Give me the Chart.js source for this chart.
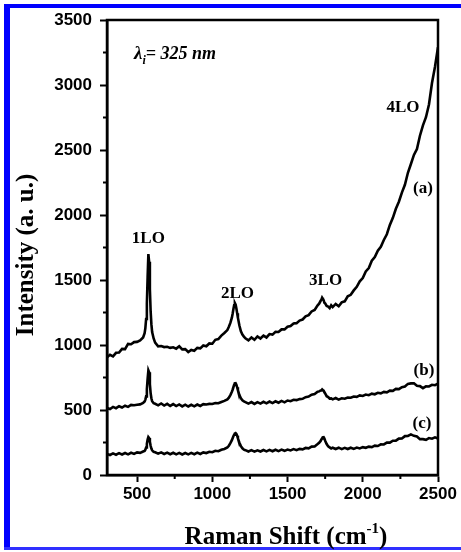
<!DOCTYPE html>
<html>
<head>
<meta charset="utf-8">
<script src="https://cdn.jsdelivr.net/npm/chart.js@4.4.0/dist/chart.umd.min.js"></script>
<style>
  html, body { margin: 0; padding: 0; background: #fff; }
  canvas { display: block; }
</style>
</head>
<body>
<canvas id="raman" width="461" height="552"></canvas>
<script>
// Raman shift (cm-1), shared by the three spectra
const ramanShift = [
  300, 320, 340, 360, 380, 400, 420, 440, 460, 480, 500, 520, 540,
  550, 555, 560, 565, 570, 575, 580, 585, 590, 595, 600, 610,
  620, 640, 660, 680, 700, 720, 740, 760, 780, 800, 820, 840, 860, 880, 900, 920, 940, 960, 980, 1000, 1020, 1040, 1060, 1080, 1100,
  1110, 1120, 1130, 1135, 1140, 1145, 1150, 1155, 1160, 1165, 1170, 1180, 1190, 1200, 1210,
  1220, 1240, 1260, 1280, 1300, 1320, 1340, 1360, 1380, 1400, 1420, 1440, 1460, 1480, 1500, 1520, 1540, 1560, 1580, 1600, 1620, 1640, 1660, 1680, 1700,
  1710, 1720, 1725, 1730, 1735, 1740, 1745, 1750, 1760, 1770, 1780, 1790,
  1800, 1820, 1840, 1860, 1880, 1900, 1920, 1940, 1960, 1980, 2000, 2020, 2040, 2060, 2080, 2100, 2120, 2140, 2160, 2180, 2200, 2220, 2240, 2260, 2280, 2300, 2320, 2340, 2360, 2380, 2400, 2420, 2440, 2460, 2480, 2500
];

const intensityA = [
  905, 925, 912, 940, 942, 970, 968, 1008, 1006, 1022, 1024, 1036, 1058,
  1090, 1130, 1200, 1320, 1520, 1700, 1640, 1430, 1260, 1160, 1100, 1050,
  1018, 990, 992, 984, 986, 978, 982, 972, 990, 966, 968, 946, 962, 956, 978, 974, 996, 990, 1012, 1010, 1040, 1046, 1072, 1092, 1115,
  1140, 1170, 1210, 1240, 1275, 1305, 1322, 1310, 1280, 1245, 1210, 1150, 1105, 1080, 1065,
  1052, 1036, 1058, 1040, 1066, 1050, 1072, 1058, 1084, 1080, 1102, 1100, 1120, 1120, 1140, 1146, 1166, 1168, 1188, 1196, 1220, 1230, 1258, 1270, 1305,
  1318, 1340, 1348, 1364, 1355, 1345, 1325, 1320, 1300, 1296, 1284, 1306,
  1292, 1316, 1298, 1328, 1336, 1375, 1386, 1420, 1448, 1490, 1515, 1566, 1592, 1648, 1676, 1726, 1756, 1808, 1852, 1924, 1978, 2048, 2102, 2172, 2232, 2325, 2392, 2462, 2508, 2610, 2690, 2752, 2850, 3015, 3140, 3290
];

const intensityB = [
  515, 508, 524, 514, 529, 519, 533, 524, 539, 537, 541, 543, 554,
  565, 580, 605, 660, 740, 805, 790, 700, 630, 590, 568, 552,
  548, 536, 550, 534, 547, 531, 545, 530, 543, 528, 541, 527, 540, 528, 542, 531, 545, 542, 547, 546, 553, 552, 562, 570, 582,
  595, 615, 640, 656, 675, 693, 705, 706, 695, 675, 652, 615, 590, 575, 566,
  561, 549, 561, 547, 560, 549, 563, 551, 565, 553, 567, 556, 570, 559, 573, 568, 579, 576, 584, 586, 599, 603, 618, 623, 640,
  643, 650, 650, 658, 652, 649, 636, 627, 606, 599, 588, 589,
  582, 592, 580, 590, 587, 596, 594, 604, 601, 612, 608, 619, 614, 626, 621, 632, 628, 639, 636, 649, 647, 662, 661, 676, 681, 701, 705, 705, 686, 684, 668, 682, 681, 694, 691, 703
];

const intensityC = [
  162, 154, 166, 156, 168, 158, 169, 159, 171, 162, 174, 170, 181,
  185, 195, 212, 240, 272, 292, 285, 255, 225, 203, 190, 178,
  175, 164, 174, 162, 172, 160, 171, 159, 170, 158, 169, 159, 170, 160, 172, 162, 174, 169, 179, 175, 186, 183, 194, 200, 212,
  225, 245, 268, 283, 298, 310, 319, 322, 316, 302, 282, 248, 222, 205, 195,
  191, 181, 191, 180, 190, 181, 192, 182, 193, 183, 194, 184, 195, 186, 196, 189, 199, 191, 201, 197, 208, 205, 218, 219, 238,
  248, 262, 273, 282, 290, 291, 281, 264, 238, 220, 212, 204,
  210, 200, 210, 199, 209, 200, 210, 201, 211, 204, 214, 209, 218, 215, 226, 223, 236, 235, 249, 249, 264, 264, 280, 281, 299, 300, 312, 301, 296, 276, 276, 271, 284, 279, 290, 281
];

const xTicks = [500, 1000, 1500, 2000, 2500];
const xMinor = [750, 1250, 1750, 2250];
const yTicks = [0, 500, 1000, 1500, 2000, 2500, 3000, 3500];
const yMinor = [250, 750, 1250, 1750, 2250, 2750, 3250];

// peak / curve labels, placed in data units
const peakLabels = ["1LO", "2LO", "3LO", "4LO", "(a)", "(b)", "(c)"];
const peakLabelShift = [575, 1167, 1753, 2267, 2400, 2407, 2393];
const peakLabelIntensity = [1815, 1392, 1492, 2823, 2200, 800, 392];

const serif = "'Liberation Serif', 'Times New Roman', serif";
const sans = "'Liberation Sans', Arial, sans-serif";

function toPoints(values) {
  return ramanShift.map((x, i) => ({ x: x, y: values[i] }));
}

function spectrum(values) {
  return {
    data: toPoints(values),
    borderColor: "#000",
    borderWidth: 2.6,
    pointRadius: 0,
    tension: 0,
    fill: false,
  };
}

const decorations = {
  id: "decorations",
  beforeDraw(chart) {
    const ctx = chart.ctx;
    ctx.save();
    ctx.fillStyle = "#fff";
    ctx.fillRect(0, 0, chart.width, chart.height);
    ctx.fillStyle = "#0000ff";
    ctx.fillRect(4, 4, chart.width - 4, 4);
    ctx.fillRect(4, 4, 6, 546);
    ctx.fillStyle = "#3030ff";
    ctx.fillRect(4, 547, chart.width - 4, 3);
    ctx.restore();
  },
  afterDraw(chart) {
    const ctx = chart.ctx;
    const area = chart.chartArea;
    const x = chart.scales.x;
    const y = chart.scales.y;
    ctx.save();

    ctx.strokeStyle = "#000";
    ctx.lineWidth = 2.5;
    ctx.strokeRect(area.left, area.top, area.right - area.left, area.bottom - area.top);

    // minor ticks
    ctx.lineWidth = 2;
    ctx.beginPath();
    for (const v of yMinor) {
      const p = y.getPixelForValue(v);
      ctx.moveTo(area.left - 4, p);
      ctx.lineTo(area.left, p);
    }
    for (const v of xMinor) {
      const p = x.getPixelForValue(v);
      ctx.moveTo(p, area.bottom);
      ctx.lineTo(p, area.bottom + 4);
    }
    ctx.stroke();

    ctx.fillStyle = "#000";
    ctx.textAlign = "center";
    ctx.textBaseline = "middle";
    ctx.font = "bold 17px " + serif;
    peakLabels.forEach((t, i) => {
      ctx.fillText(t, x.getPixelForValue(peakLabelShift[i]), y.getPixelForValue(peakLabelIntensity[i]));
    });

    // excitation wavelength
    ctx.textAlign = "left";
    ctx.textBaseline = "alphabetic";
    let lx = x.getPixelForValue(480);
    const ly = y.getPixelForValue(3200);
    ctx.font = "bold italic 19px " + serif;
    ctx.fillText("λ", lx, ly);
    lx += ctx.measureText("λ").width;
    ctx.font = "bold italic 12px " + serif;
    ctx.fillText("i", lx, ly + 5);
    lx += ctx.measureText("i").width;
    ctx.font = "bold italic 18px " + serif;
    ctx.fillText("= 325 nm", lx, ly);

    // y axis title
    ctx.save();
    ctx.translate(33, 255);
    ctx.rotate(-Math.PI / 2);
    ctx.textAlign = "center";
    ctx.font = "bold 25px " + serif;
    ctx.fillText("Intensity (a. u.)", 0, 0);
    ctx.restore();

    // x axis title with superscript
    const main = "Raman Shift (cm";
    ctx.font = "bold 25px " + serif;
    const wMain = ctx.measureText(main).width;
    const wClose = ctx.measureText(")").width;
    ctx.font = "bold 15px " + serif;
    const wSup = ctx.measureText("-1").width;
    let tx = 286 - (wMain + wSup + wClose) / 2;
    const ty = 544;
    ctx.font = "bold 25px " + serif;
    ctx.fillText(main, tx, ty);
    tx += wMain;
    ctx.font = "bold 15px " + serif;
    ctx.fillText("-1", tx, ty - 11);
    tx += wSup;
    ctx.font = "bold 25px " + serif;
    ctx.fillText(")", tx, ty);

    ctx.restore();
  },
};

new Chart(document.getElementById("raman"), {
  type: "line",
  data: {
    datasets: [spectrum(intensityA), spectrum(intensityB), spectrum(intensityC)],
  },
  options: {
    responsive: false,
    animation: false,
    devicePixelRatio: 1,
    layout: { padding: { top: 20, right: 23, left: 0, bottom: 0 } },
    plugins: { legend: { display: false }, tooltip: { enabled: false } },
    scales: {
      x: {
        type: "linear",
        min: 300,
        max: 2500,
        afterBuildTicks: (scale) => {
          scale.ticks = xTicks.map((v) => ({ value: v }));
        },
        afterFit: (scale) => {
          scale.height = 77;
        },
        ticks: {
          color: "#000",
          padding: 2,
          maxRotation: 0,
          callback: (v) => String(v),
          font: { family: sans, size: 17, weight: "bold" },
        },
        grid: { drawOnChartArea: false, tickLength: 7, tickWidth: 2, tickColor: "#000" },
        border: { color: "#000", width: 2.5 },
      },
      y: {
        min: 0,
        max: 3500,
        afterBuildTicks: (scale) => {
          scale.ticks = yTicks.map((v) => ({ value: v }));
        },
        afterFit: (scale) => {
          scale.width = 107;
        },
        ticks: {
          color: "#000",
          padding: 8,
          callback: (v) => String(v),
          font: { family: sans, size: 17, weight: "bold" },
        },
        grid: { drawOnChartArea: false, tickLength: 7, tickWidth: 2, tickColor: "#000" },
        border: { color: "#000", width: 2.5 },
      },
    },
  },
  plugins: [decorations],
});
</script>
</body>
</html>
